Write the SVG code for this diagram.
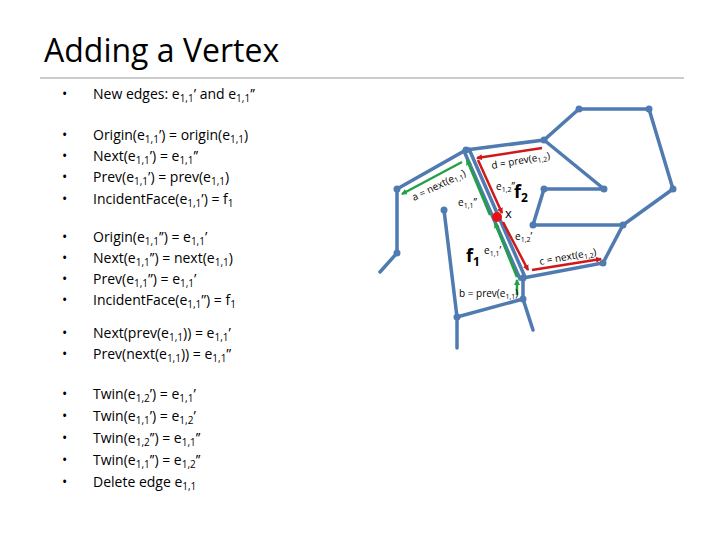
<svg xmlns="http://www.w3.org/2000/svg" width="720" height="540" viewBox="0 0 720 540">
<style>
.t{font-family:"Open Sans","Liberation Sans",sans-serif;font-size:14px;fill:#000}
.s{font-size:10px}
.e{stroke:#4f7bb0;stroke-width:3.5;fill:none;stroke-linecap:round}
.v{fill:#4f7bb0}
.g{stroke:#22a046;stroke-width:2.5;fill:none;marker-end:url(#ag)}
.r{stroke:#d01818;stroke-width:2.5;fill:none;marker-end:url(#ar)}
.l{font-family:"Open Sans","Liberation Sans",sans-serif;font-size:10px;fill:#000}
.f{font-family:"Open Sans","Liberation Sans",sans-serif;font-size:18px;font-weight:bold}
</style>
<defs>
<marker id="ag" markerWidth="6" markerHeight="6" refX="5" refY="3" orient="auto" markerUnits="userSpaceOnUse" viewBox="0 0 6 6"><path d="M0,0L6,3L0,6z" fill="#22a046"/></marker>
<marker id="ar" markerWidth="6" markerHeight="6" refX="5" refY="3" orient="auto" markerUnits="userSpaceOnUse" viewBox="0 0 6 6"><path d="M0,0L6,3L0,6z" fill="#d01818"/></marker>
</defs>
<rect width="720" height="540" fill="#fff"/>
<text x="44" y="62" font-family="Open Sans,Liberation Sans,sans-serif" font-size="32">Adding a Vertex</text>
<line x1="40" y1="78" x2="684" y2="78" stroke="#999" stroke-width="1"/>
<g id="bullets" class="t">
<text x="62" y="99">•</text><text x="93" y="99">New edges: e<tspan class="s" dy="3">1,1</tspan><tspan dy="-3">’ and e</tspan><tspan class="s" dy="3">1,1</tspan><tspan dy="-3">’’</tspan></text>
<text x="62" y="140">•</text><text x="93" y="140">Origin(e<tspan class="s" dy="3">1,1</tspan><tspan dy="-3">’) = origin(e</tspan><tspan class="s" dy="3">1,1</tspan><tspan dy="-3">)</tspan></text>
<text x="62" y="161">•</text><text x="93" y="161">Next(e<tspan class="s" dy="3">1,1</tspan><tspan dy="-3">’) = e</tspan><tspan class="s" dy="3">1,1</tspan><tspan dy="-3">’’</tspan></text>
<text x="62" y="182">•</text><text x="93" y="182">Prev(e<tspan class="s" dy="3">1,1</tspan><tspan dy="-3">’) = prev(e</tspan><tspan class="s" dy="3">1,1</tspan><tspan dy="-3">)</tspan></text>
<text x="62" y="204">•</text><text x="93" y="204">IncidentFace(e<tspan class="s" dy="3">1,1</tspan><tspan dy="-3">’) = f</tspan><tspan class="s" dy="3">1</tspan></text>
<text x="62" y="242">•</text><text x="93" y="242">Origin(e<tspan class="s" dy="3">1,1</tspan><tspan dy="-3">’’) = e</tspan><tspan class="s" dy="3">1,1</tspan><tspan dy="-3">’</tspan></text>
<text x="62" y="263">•</text><text x="93" y="263">Next(e<tspan class="s" dy="3">1,1</tspan><tspan dy="-3">’’) = next(e</tspan><tspan class="s" dy="3">1,1</tspan><tspan dy="-3">)</tspan></text>
<text x="62" y="284">•</text><text x="93" y="284">Prev(e<tspan class="s" dy="3">1,1</tspan><tspan dy="-3">’’) = e</tspan><tspan class="s" dy="3">1,1</tspan><tspan dy="-3">’</tspan></text>
<text x="62" y="305">•</text><text x="93" y="305">IncidentFace(e<tspan class="s" dy="3">1,1</tspan><tspan dy="-3">’’) = f</tspan><tspan class="s" dy="3">1</tspan></text>
<text x="62" y="338">•</text><text x="93" y="338">Next(prev(e<tspan class="s" dy="3">1,1</tspan><tspan dy="-3">)) = e</tspan><tspan class="s" dy="3">1,1</tspan><tspan dy="-3">’</tspan></text>
<text x="62" y="359">•</text><text x="93" y="359">Prev(next(e<tspan class="s" dy="3">1,1</tspan><tspan dy="-3">)) = e</tspan><tspan class="s" dy="3">1,1</tspan><tspan dy="-3">’’</tspan></text>
<text x="62" y="399">•</text><text x="93" y="399">Twin(e<tspan class="s" dy="3">1,2</tspan><tspan dy="-3">’) = e</tspan><tspan class="s" dy="3">1,1</tspan><tspan dy="-3">’</tspan></text>
<text x="62" y="421">•</text><text x="93" y="421">Twin(e<tspan class="s" dy="3">1,1</tspan><tspan dy="-3">’) = e</tspan><tspan class="s" dy="3">1,2</tspan><tspan dy="-3">’</tspan></text>
<text x="62" y="443">•</text><text x="93" y="443">Twin(e<tspan class="s" dy="3">1,2</tspan><tspan dy="-3">’’) = e</tspan><tspan class="s" dy="3">1,1</tspan><tspan dy="-3">’’</tspan></text>
<text x="62" y="465">•</text><text x="93" y="465">Twin(e<tspan class="s" dy="3">1,1</tspan><tspan dy="-3">’’) = e</tspan><tspan class="s" dy="3">1,2</tspan><tspan dy="-3">’’</tspan></text>
<text x="62" y="487">•</text><text x="93" y="487">Delete edge e<tspan class="s" dy="3">1,1</tspan></text>
</g>
<g id="graph">
<polyline class="e" points="380,272 397,253 397,189 466,150 544,140 579,109 649,109 673,189 623,225 603,263 523,278"/>
<line class="e" x1="544" y1="140" x2="604" y2="189"/>
<polyline class="e" points="604,189 544,189 533,225 623,225"/>
<polyline class="e" points="444,210 457,317 523,299 533,330"/>
<line class="e" x1="457" y1="317" x2="457" y2="348"/>
<line class="e" x1="523" y1="278" x2="523" y2="299"/>
<line class="e" x1="464" y1="151" x2="520" y2="279" stroke-width="2.5"/>
<line class="e" x1="469" y1="149" x2="525" y2="277" stroke-width="2.5"/>
<g class="v">
<circle cx="397" cy="189" r="3.5"/><circle cx="397" cy="253" r="3.5"/><circle cx="466" cy="150" r="3.5"/><circle cx="544" cy="140" r="3.5"/><circle cx="579" cy="109" r="3.5"/><circle cx="649" cy="109" r="3.5"/><circle cx="673" cy="189" r="3.5"/><circle cx="623" cy="225" r="3.5"/><circle cx="603" cy="263" r="3.5"/><circle cx="523" cy="278" r="3.5"/><circle cx="604" cy="189" r="3.5"/><circle cx="544" cy="189" r="3.5"/><circle cx="533" cy="225" r="3.5"/><circle cx="444" cy="210" r="3.5"/><circle cx="457" cy="317" r="3.5"/><circle cx="523" cy="299" r="3.5"/>
</g>
</g>
<g id="connectors">
<line class="g" x1="462" y1="162" x2="402" y2="194"/>
<line class="g" x1="490" y1="215" x2="467" y2="160"/>
<line class="g" x1="517" y1="277" x2="495" y2="223"/>
<line class="g" x1="517" y1="295" x2="517" y2="280"/>
<line class="r" x1="542" y1="148" x2="477" y2="158"/>
<line class="r" x1="478" y1="160" x2="502" y2="213"/>
<line class="r" x1="503" y1="222" x2="528" y2="270"/>
<line class="r" x1="532" y1="270" x2="601" y2="259"/>
<circle cx="497" cy="217" r="5" fill="#e81010"/>
</g>
<g id="labels" class="l">
<text transform="translate(492,169) rotate(-10)">d = prev(e<tspan font-size="7" dy="2">1,2</tspan><tspan dy="-2">)</tspan></text>
<text transform="translate(414,201) rotate(-26)">a = next(e<tspan font-size="7" dy="2">1,1</tspan><tspan dy="-2">)</tspan></text>
<text x="458" y="206">e<tspan font-size="7" dy="2">1,1</tspan><tspan dy="-2">’’</tspan></text>
<text x="496" y="190">e<tspan font-size="7" dy="2">1,2</tspan><tspan dy="-2">’’</tspan></text>
<text x="505" y="218" font-size="13">x</text>
<text x="484" y="254">e<tspan font-size="7" dy="2">1,1</tspan><tspan dy="-2">’</tspan></text>
<text x="515" y="240">e<tspan font-size="7" dy="2">1,2</tspan><tspan dy="-2">’</tspan></text>
<text transform="translate(540,265) rotate(-10)">c = next(e<tspan font-size="7" dy="2">1,2</tspan><tspan dy="-2">)</tspan></text>
<text x="459" y="297">b = prev(e<tspan font-size="7" dy="2">1,1</tspan><tspan dy="-2">)</tspan></text>
<text class="f" x="514" y="198">f<tspan font-size="12" dy="4">2</tspan></text>
<text class="f" x="466" y="262">f<tspan font-size="12" dy="4">1</tspan></text>
</g>
</svg>
